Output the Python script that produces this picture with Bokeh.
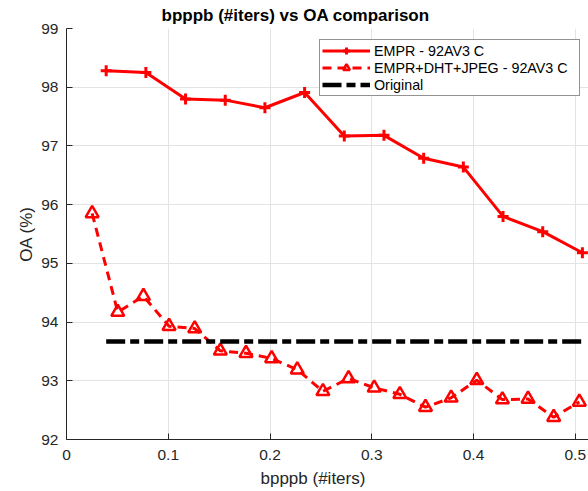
from bokeh.plotting import figure
from bokeh.models import Legend, LegendItem, FixedTicker, Title
from bokeh.embed import file_html
from bokeh.resources import INLINE

# ---- data ----
empr_x = [0.039 * k for k in range(1, 14)]
empr_y = [98.28, 98.25, 97.80, 97.78, 97.65, 97.91, 97.17, 97.18, 96.79, 96.64, 95.80, 95.54, 95.18]

dht_x = [0.0252 * k for k in range(1, 21)]
dht_y = [95.85, 94.17, 94.44, 93.93, 93.89, 93.51, 93.47, 93.38, 93.19, 92.82,
         93.04, 92.88, 92.77, 92.55, 92.71, 93.01, 92.68, 92.69, 92.38, 92.64]

orig_x = [0.039, 0.507]
orig_y = [93.67, 93.67]

x_ticks = [0, 0.1, 0.2, 0.3, 0.4, 0.5]
x_tick_labels = ["0", "0.1", "0.2", "0.3", "0.4", "0.5"]
y_ticks = [92, 93, 94, 95, 96, 97, 98, 99]

title_text = "bpppb (#iters) vs OA comparison"
xlabel = "bpppb (#iters)"
ylabel = "OA (%)"
labels = ["EMPR - 92AV3 C", "EMPR+DHT+JPEG - 92AV3 C", "Original"]

FONT = "Liberation Sans"
AX = "#262626"

p = figure(width=588, height=491, x_range=(0, 0.513), y_range=(92, 99),
           output_backend="svg", toolbar_location=None,
           min_border_left=66, min_border_right=0, min_border_top=0, min_border_bottom=0)
p.title.visible = False
p.outline_line_color = None
p.background_fill_color = "white"

for ax in (p.xaxis, p.yaxis):
    ax.axis_line_color = AX
    ax.major_tick_line_color = AX
    ax.minor_tick_line_color = None
    ax.major_tick_in = 6
    ax.major_tick_out = 0
    ax.major_label_text_font = FONT
    ax.major_label_text_font_size = "15.5px"
    ax.major_label_text_color = AX
    ax.axis_label_text_font = FONT
    ax.axis_label_text_font_size = "17px"
    ax.axis_label_text_font_style = "normal"
    ax.axis_label_text_color = AX

p.xaxis.ticker = FixedTicker(ticks=x_ticks)
p.xaxis.major_label_overrides = {t: s for t, s in zip(x_ticks, x_tick_labels)}
p.xaxis.major_label_standoff = 10
p.yaxis.ticker = FixedTicker(ticks=y_ticks)
p.yaxis.major_label_standoff = 8
p.yaxis.axis_label = ylabel
p.yaxis.axis_label_standoff = 2

p.xgrid.grid_line_color = "#e3e3e3"
p.ygrid.grid_line_color = "#e3e3e3"
p.xgrid.grid_line_width = 1
p.ygrid.grid_line_width = 1

RED = "#ff0000"
l1 = p.line(empr_x, empr_y, line_color=RED, line_width=3)
m1 = p.scatter(empr_x, empr_y, marker="cross", size=11, line_color=RED, line_width=3)

l2 = p.line(dht_x, dht_y, line_color=RED, line_width=3, line_dash="9 6")
m2 = p.scatter(dht_x, dht_y, marker="triangle", size=13, line_color=RED, line_width=2.5,
               fill_color="white", fill_alpha=0.0)

l3 = p.line(orig_x, orig_y, line_color="black", line_width=4.5, line_dash="19 5 9 5")

legend = Legend(items=[
    LegendItem(label=labels[0], renderers=[l1, m1]),
    LegendItem(label=labels[1], renderers=[l2, m2]),
    LegendItem(label=labels[2], renderers=[l3]),
], location=(253, 343))
legend.label_text_font = FONT
legend.label_text_font_size = "14.3px"
legend.label_text_color = "black"
legend.glyph_width = 48
legend.glyph_height = 17
legend.label_height = 17
legend.label_width = 203
legend.spacing = 0
legend.padding = 2
legend.margin = 0
legend.label_standoff = 4
legend.border_line_color = AX
legend.border_line_width = 1
legend.background_fill_color = "white"
legend.background_fill_alpha = 1.0
p.add_layout(legend, "center")

t = Title(text=title_text, align="left", offset=95, text_font=FONT, text_font_size="17px",
          text_font_style="bold", text_color="black", standoff=7)
p.add_layout(t, "above")
xl = Title(text=xlabel, align="left", offset=194, text_font=FONT, text_font_size="17px",
           text_font_style="normal", text_color=AX, standoff=8)
p.add_layout(xl, "below")

open("out.html", "w").write(file_html(p, INLINE))
